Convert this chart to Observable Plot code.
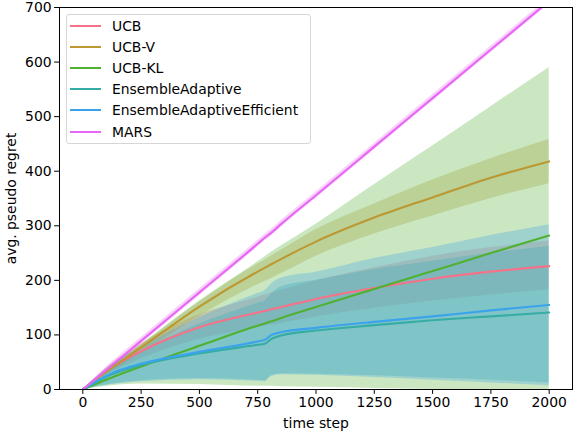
<!DOCTYPE html>
<html><head><meta charset="utf-8">
<script src="https://cdn.jsdelivr.net/npm/d3@7"></script>
<script src="https://cdn.jsdelivr.net/npm/@observablehq/plot@0.6"></script>
<style>
body{margin:0;background:#fff;font-family:"DejaVu Sans",sans-serif;}
#wrap{position:relative;width:574px;height:434px;}
#legend{position:absolute;left:66px;top:14px;width:245px;height:130px;border:1px solid #d6d6d6;border-radius:3px;background:rgba(255,255,255,0.8);box-sizing:border-box;font-size:13.9px;color:#000;}
.row{display:flex;align-items:center;height:21.2px;}
.sw{width:31px;height:2px;margin-left:3px;margin-right:11px;}
</style></head><body>
<div id="wrap"></div>
<script>
// time grid
const steps = [0, 125, 250, 500, 750, 780, 810, 850, 1000, 1250, 1500, 1750, 2000];
const names = ["UCB", "UCB-V", "UCB-KL", "EnsembleAdaptive", "EnsembleAdaptiveEfficient", "MARS"];
const colors = ["#f77189", "#bb9832", "#50b131", "#36ada4", "#3ba3ec", "#e866f4"];
const xTicks = [0, 250, 500, 750, 1000, 1250, 1500, 1750, 2000];
const yTicks = [0, 100, 200, 300, 400, 500, 600, 700];

// mean curves
const ucbMean   = [0, 40, 70, 114, 141, 144, 147, 151, 166, 186, 203, 216, 226];
const ucbvMean  = [0, 40, 77, 152, 216, 223, 230, 239, 271, 315, 352, 388, 418];
const ucbklMean = [0, 22, 42, 80, 117, 121, 125, 131, 151, 184, 217, 250, 282];
const ensMean   = [0, 28, 45, 66, 82, 84, 93, 99, 108, 118, 127, 134, 141];
const ensEffMean= [0, 30, 47, 69, 88, 91, 100, 105, 113, 124, 134, 145, 155];
const marsMean  = [0, 44.5, 89, 178, 267, 278, 288, 303, 356, 445, 534, 623, 712];

// band upper / lower
const ucbHi   = [0, 48, 84, 137, 169, 173, 177, 182, 199, 223, 244, 260, 272];
const ucbLo   = [0, 32, 56, 92, 113, 116, 118, 121, 133, 149, 162, 173, 183];
const ucbvHi  = [0, 44, 82, 160, 230, 237, 245, 255, 293, 340, 384, 423, 458];
const ucbvLo  = [0, 34, 66, 134, 192, 198, 204, 212, 244, 285, 318, 350, 377];
const ucbklHi = [0, 42, 82, 162, 234, 243, 252, 263, 303, 375, 446, 518, 590];
const ucbklLo = [0, 7, 10, 9, 6, 6, 6, 5, 4, 2, 0, -2, -4];
const ensHi   = [0, 42, 70, 120, 158, 162, 176, 188, 200, 220, 235, 250, 262];
const ensLo   = [0, 10, 16, 20, 17, 16, 26, 29, 28, 25, 21, 17, 12];
const ensEffHi= [0, 46, 77, 132, 176, 181, 194, 204, 215, 240, 260, 282, 302];
const ensEffLo= [0, 9, 14, 18, 15, 14, 24, 27, 26, 22, 17, 12, 7];
const marsHi  = [0, 50, 95, 184, 273, 284, 294, 309, 362, 451, 540, 629, 718];
const marsLo  = [0, 39, 83, 172, 261, 272, 282, 297, 350, 439, 528, 617, 706];

const means = [ucbMean, ucbvMean, ucbklMean, ensMean, ensEffMean, marsMean];
const his = [ucbHi, ucbvHi, ucbklHi, ensHi, ensEffHi, marsHi];
const los = [ucbLo, ucbvLo, ucbklLo, ensLo, ensEffLo, marsLo];

const rows = [];
names.forEach((n, i) => steps.forEach((t, j) => rows.push({name: n, t, m: means[i][j], hi: his[i][j], lo: los[i][j]})));

const bands = names.map((n, i) => Plot.areaY(rows.filter(d => d.name === n), {
  x: "t", y1: "lo", y2: "hi", fill: colors[i], fillOpacity: 0.3, curve: "monotone-x", clip: true
}));
const lines = names.map((n, i) => Plot.lineY(rows.filter(d => d.name === n), {
  x: "t", y: "m", stroke: colors[i], strokeWidth: 2.1, curve: "monotone-x", clip: true
}));

const chart = Plot.plot({
  width: 574, height: 434,
  marginLeft: 59, marginRight: 2, marginTop: 7, marginBottom: 45,
  x: {domain: [-100, 2100]},
  y: {domain: [0, 700]},
  style: {fontFamily: "DejaVu Sans", fontSize: "13.9px", color: "black", background: "white"},
  marks: [
    ...bands,
    ...lines,
    Plot.frame({stroke: "black", strokeWidth: 1}),
    Plot.axisX({ticks: xTicks, tickFormat: d3.format("d"), tickSize: 4.9, tickPadding: 3, fontSize: 13.9, label: "time step", labelAnchor: "center", labelOffset: 38, labelArrow: "none"}),
    Plot.axisY({ticks: yTicks, tickFormat: d3.format("d"), tickSize: 4.9, tickPadding: 3, fontSize: 13.9, label: "avg. pseudo regret", labelAnchor: "center", labelOffset: 53, labelArrow: "none"})
  ]
});
const wrap = document.getElementById("wrap");
wrap.appendChild(chart);

const legend = document.createElement("div");
legend.id = "legend";
names.forEach((n, i) => {
  const r = document.createElement("div");
  r.className = "row";
  const s = document.createElement("span");
  s.className = "sw";
  s.style.background = colors[i];
  const l = document.createElement("span");
  l.textContent = n;
  r.appendChild(s); r.appendChild(l);
  legend.appendChild(r);
});
wrap.appendChild(legend);
</script>
</body></html>
